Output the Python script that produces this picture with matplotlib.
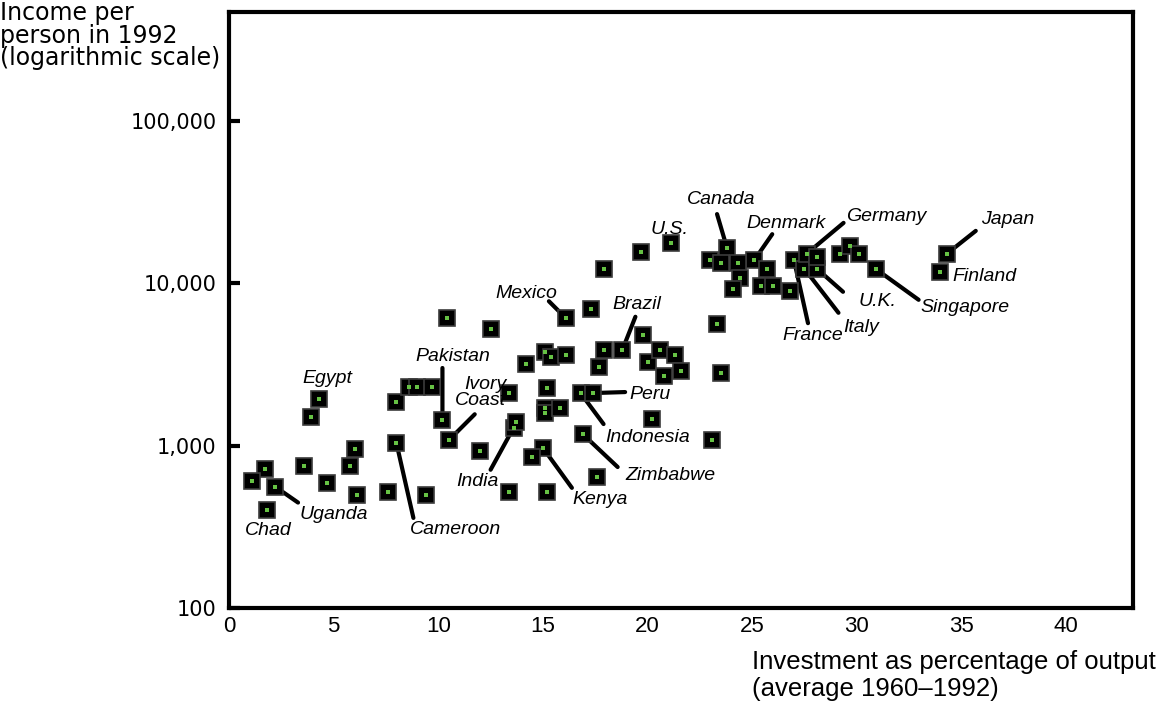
import matplotlib
matplotlib.use("Agg")
import matplotlib.pyplot as plt
from matplotlib.ticker import NullLocator

# investment share (% of output, 1960-1992) and income per person in 1992
invest = [1.8, 2.2, 4.3, 8.0, 10.2, 10.5, 13.6, 15.0, 16.1, 16.8, 16.9,
          17.4, 18.8, 21.1, 23.8, 25.1, 27.0, 27.5, 27.6, 28.1, 30.9, 34.0, 34.3,
          3.9, 6.0, 1.7, 3.6, 5.8, 1.1, 4.7, 6.1, 7.6, 9.4, 8.0, 8.6, 9.0, 9.7,
          10.4, 12.5, 17.3, 14.2, 15.1, 15.4, 16.1, 17.9, 19.8, 20.0, 20.6, 17.7,
          20.8, 21.3, 21.6, 15.2, 13.4, 15.1, 15.1, 15.8, 13.7, 12.0, 20.2, 14.5,
          17.6, 13.4, 15.2, 23.1, 23.5, 23.3, 17.9, 19.7,
          23.0, 23.5, 24.3, 24.4, 24.1, 25.7, 25.4, 26.0, 26.8, 28.1, 29.2,
          29.7, 30.1]
income = [400, 560, 1940, 1040, 1440, 1080, 1290, 970, 6100, 2110, 1180,
          2110, 3900, 17700, 16500, 13900, 13900, 12300, 15200, 12300, 12300, 11800, 15200,
          1500, 950, 720, 750, 750, 610, 590, 500, 520, 500, 1860, 2300, 2300, 2300,
          6100, 5200, 7000, 3200, 3800, 3500, 3600, 3900, 4800, 3300, 3900, 3050,
          2700, 3600, 2900, 2270, 2110, 1710, 1590, 1710, 1400, 930, 1460, 850,
          640, 520, 520, 1080, 2800, 5600, 12300, 15600,
          13900, 13400, 13400, 10800, 9200, 12300, 9600, 9600, 9000, 14600, 15200,
          17000, 15200]
countries = ["Chad", "Uganda", "Egypt", "Cameroon", "Pakistan", "Ivory\nCoast",
             "India", "Kenya", "Mexico", "Indonesia", "Zimbabwe", "Peru", "Brazil",
             "U.S.", "Canada", "Denmark", "France", "Italy", "Germany", "U.K.",
             "Singapore", "Finland", "Japan"]

x_ticks = [0, 5, 10, 15, 20, 25, 30, 35, 40]
y_ticks = [100, 1000, 10000, 100000]
y_tick_labels = ["100", "1,000", "10,000", "100,000"]

# label placement, pixels from the point: (text dx, dy, leader end dx, dy)
label_pos = {
    "Chad": (2, -20, None, None),
    "Uganda": (59, -28, 23, -16),
    "Egypt": (8, 20, None, None),
    "Cameroon": (59, -87, 17, -75),
    "Pakistan": (10, 63, 0, 52),
    "Ivory\nCoast": (32, 48, 26, 26),
    "India": (-36, -54, -23, -42),
    "Kenya": (57, -52, 29, -40),
    "Mexico": (-40, 25, -17, 17),
    "Indonesia": (67, -44, 23, -31),
    "Zimbabwe": (88, -41, 35, -33),
    "Peru": (57, -1, 32, 1),
    "Brazil": (14, 45, 13, 33),
    "U.S.": (-1, 14, None, None),
    "Canada": (-6, 49, -10, 34),
    "Denmark": (32, 37, 18, 26),
    "France": (19, -75, 14, -63),
    "Italy": (57, -59, 34, -44),
    "Germany": (80, 37, 37, 31),
    "U.K.": (60, -33, 26, -23),
    "Singapore": (89, -39, 43, -31),
    "Finland": (44, -5, None, None),
    "Japan": (61, 34, 29, 23),
}

fig = plt.figure(figsize=(11.57, 7.06), dpi=100)
ax = fig.add_axes([229 / 1157, 98 / 706, 904 / 1157, 596 / 706])

ax.plot(invest, income, "s", ms=12, mfc="black", mec="#3c3c3c", mew=1.2, zorder=3)
ax.plot(invest, income, "s", ms=3.2, mfc="#66c244", mec="#66c244", mew=0, zorder=4)

label_font = dict(family=["Liberation Sans", "DejaVu Sans"], fontstyle="italic", fontsize=14)
for i, name in enumerate(countries):
    tdx, tdy, ldx, ldy = label_pos[name]
    if ldx is not None:
        ax.annotate("", xy=(invest[i], income[i]), xytext=(ldx, ldy),
                    textcoords="offset pixels",
                    arrowprops=dict(arrowstyle="-", lw=3, color="black",
                                    shrinkA=0, shrinkB=0), zorder=2)
    ax.annotate(name, xy=(invest[i], income[i]), xytext=(tdx, tdy),
                textcoords="offset pixels", ha="center", va="center",
                multialignment="right", linespacing=0.95, zorder=5, **label_font)

ax.set_yscale("log")
ax.set_xlim(0, 43.2)
ax.set_ylim(100, 470000)
ax.set_yticks(y_ticks)
ax.set_yticklabels(y_tick_labels)
ax.yaxis.set_minor_locator(NullLocator())
ax.set_xticks(x_ticks)
ax.set_xticklabels([str(t) for t in x_ticks])

for s in ax.spines.values():
    s.set_linewidth(3)
ax.tick_params(axis="y", direction="in", length=8, width=3, pad=9, labelsize=15)
ax.tick_params(axis="x", length=0, pad=6, labelsize=16)
for lab in ax.get_xticklabels():
    lab.set_family(["Liberation Sans", "DejaVu Sans"])
for lab in ax.get_yticklabels():
    lab.set_family(["DejaVu Sans"])

fig.text(0.0, 0.998, "Income per\nperson in 1992\n(logarithmic scale)",
         ha="left", va="top", fontsize=17, linespacing=0.9,
         family=["DejaVu Sans"])
fig.text(752 / 1157, 1 - 650 / 706,
         "Investment as percentage of output\n(average 1960\u20131992)",
         ha="left", va="top", fontsize=18.5, linespacing=1.15,
         family=["Liberation Sans", "DejaVu Sans"])

fig.savefig("out.png", dpi=100)
